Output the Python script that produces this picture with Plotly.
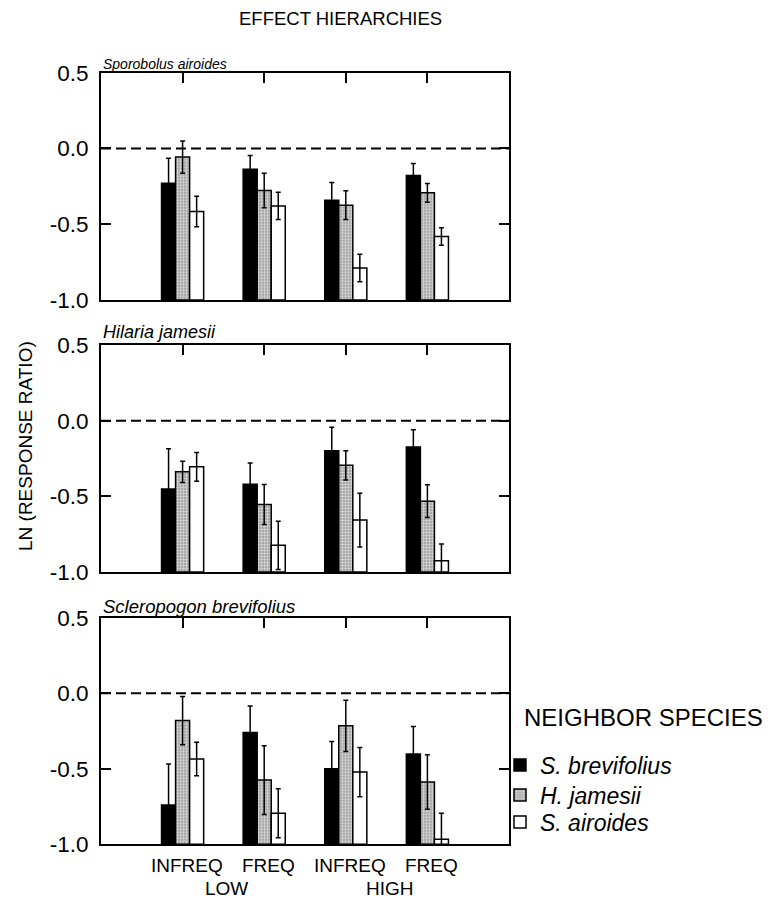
import plotly.graph_objects as go
from plotly.subplots import make_subplots

# ---------------- data ----------------
categories = ["INFREQ", "FREQ", "INFREQ", "FREQ"]
levels = ["LOW", "HIGH"]
panel_titles = ["Sporobolus airoides", "Hilaria jamesii", "Scleropogon brevifolius"]
series_names = ["S. brevifolius", "H. jamesii", "S. airoides"]

# Sporobolus airoides (target)
sp_black = [-0.229, -0.137, -0.341, -0.178]
sp_gray = [-0.057, -0.278, -0.374, -0.293]
sp_white = [-0.416, -0.379, -0.789, -0.581]
sp_black_err = [0.165, 0.090, 0.117, 0.079]
sp_gray_err = [0.107, 0.114, 0.095, 0.062]
sp_white_err = [0.100, 0.090, 0.091, 0.058]

# Hilaria jamesii (target)
hj_black = [-0.451, -0.420, -0.198, -0.174]
hj_gray = [-0.338, -0.554, -0.295, -0.532]
hj_white = [-0.305, -0.824, -0.657, -0.925]
hj_black_err = [0.266, 0.141, 0.154, 0.114]
hj_gray_err = [0.070, 0.132, 0.097, 0.108]
hj_white_err = [0.095, 0.160, 0.177, 0.110]

# Scleropogon brevifolius (target)
sb_black = [-0.740, -0.260, -0.500, -0.403]
sb_gray = [-0.181, -0.575, -0.216, -0.588]
sb_white = [-0.436, -0.795, -0.522, -0.967]
sb_black_err = [0.271, 0.176, 0.181, 0.183]
sb_gray_err = [0.160, 0.228, 0.170, 0.180]
sb_white_err = [0.111, 0.162, 0.163, 0.172]

y_ticks = [0.5, 0.0, -0.5, -1.0]
y_tick_labels = ["0.5", "0.0", "-0.5", "-1.0"]
BASE = -1.0

panels = [
    (sp_black, sp_gray, sp_white, sp_black_err, sp_gray_err, sp_white_err),
    (hj_black, hj_gray, hj_white, hj_black_err, hj_gray_err, hj_white_err),
    (sb_black, sb_gray, sb_white, sb_black_err, sb_gray_err, sb_white_err),
]

FONT = "Liberation Sans, Arial, sans-serif"
W, H = 771, 901

styles = [
    dict(color="black", line=dict(color="black", width=1.5)),
    dict(color="#b4b4b4", line=dict(color="black", width=1.5),
         pattern=dict(shape="+", fgcolor="#dedede", bgcolor="#a8a8a8", size=3, solidity=0.35)),
    dict(color="white", line=dict(color="black", width=1.5)),
]
legend_ids = ["legend", "legend2", "legend3"]
legend_y = [765, 795, 822]

fig = make_subplots(rows=3, cols=1)

xs = list(range(len(categories)))
for p, data in enumerate(panels):
    vals = data[:3]
    errs = data[3:]
    for s in range(3):
        fig.add_trace(
            go.Bar(
                x=xs,
                y=[v - BASE for v in vals[s]],
                base=BASE,
                name="<i>" + series_names[s] + "</i>",
                marker=styles[s],
                error_y=dict(type="data", array=errs[s], color="black", thickness=1.5, width=2.5),
                showlegend=(p == 0),
                legend=legend_ids[s],
            ),
            row=p + 1, col=1,
        )
    fig.add_hline(y=0, line=dict(color="black", width=2, dash="10px,5px"), row=p + 1, col=1)

# geometry (paper)
x_dom = [101 / W, 509 / W]
y_doms = [
    [1 - 300 / H, 1 - 72.7 / H],
    [1 - 572 / H, 1 - 345 / H],
    [1 - 844.3 / H, 1 - 617.7 / H],
]
for i in range(3):
    xa = "xaxis" if i == 0 else f"xaxis{i+1}"
    ya = "yaxis" if i == 0 else f"yaxis{i+1}"
    fig.layout[xa].update(
        domain=x_dom, range=[-1, 4], side="top", showline=True, linecolor="black",
        linewidth=2, mirror=True, ticks="inside", ticklen=10, tickwidth=1.5,
        tickcolor="black", tickvals=xs, showticklabels=False, showgrid=False, zeroline=False,
        automargin=False,
    )
    fig.layout[ya].update(
        domain=y_doms[i], range=[-1, 0.5], showline=True, linecolor="black",
        linewidth=2, mirror="ticks", ticks="inside", ticklen=10, tickwidth=1.5,
        tickcolor="black", tickvals=y_ticks, ticktext=y_tick_labels,
        tickfont=dict(family=FONT, size=22.5, color="black"), ticklabelstandoff=6,
        showgrid=False, zeroline=False, automargin=False,
    )

annotations = []
annotations.append(dict(text="EFFECT HIERARCHIES", x=340 / W, y=1 - 18 / H, xref="paper", yref="paper",
                        showarrow=False, font=dict(family=FONT, size=18.5, color="black"),
                        xanchor="center", yanchor="middle"))
annotations.append(dict(text="LN (RESPONSE RATIO)", x=26 / W, y=1 - 446 / H, xref="paper", yref="paper",
                        showarrow=False, textangle=-90, font=dict(family=FONT, size=19, color="black"),
                        xanchor="center", yanchor="middle"))
title_specs = [(14, 63.5), (18, 332), (18.5, 606.5)]
for t, (sz, yc) in zip(panel_titles, title_specs):
    annotations.append(dict(text="<i>" + t + "</i>", x=101 / W, y=1 - yc / H, xref="paper", yref="paper",
                            showarrow=False, font=dict(family=FONT, size=sz, color="black"),
                            xanchor="left", yanchor="middle"))
for i, c in enumerate(categories):
    annotations.append(dict(text=c, x=i + 0.05, y=1 - 865.5 / H, xref="x3", yref="paper",
                            showarrow=False, font=dict(family=FONT, size=19, color="black"),
                            xanchor="center", yanchor="middle"))
for j, lv in enumerate(levels):
    annotations.append(dict(text=lv, x=2 * j + 0.54, y=1 - 888 / H, xref="x3", yref="paper",
                            showarrow=False, font=dict(family=FONT, size=19, color="black"),
                            xanchor="center", yanchor="middle"))
annotations.append(dict(text="NEIGHBOR SPECIES", x=522 / W, y=1 - 717 / H, xref="paper", yref="paper",
                        showarrow=False, font=dict(family=FONT, size=24, color="black"),
                        xanchor="left", yanchor="middle"))

legend_layout = {}
for lid, ly in zip(legend_ids, legend_y):
    legend_layout[lid] = dict(x=500 / W, y=1 - ly / H, xanchor="left", yanchor="middle",
                              font=dict(family=FONT, size=23, color="black"),
                              bgcolor="rgba(0,0,0,0)", borderwidth=0, itemwidth=30)

fig.update_layout(
    template="none",
    width=W, height=H,
    margin=dict(l=0, r=0, t=0, b=0, pad=0, autoexpand=False),
    paper_bgcolor="white", plot_bgcolor="white",
    barmode="group", bargap=0.484, bargroupgap=0,
    font=dict(family=FONT, color="black"),
    annotations=annotations,
    **legend_layout,
)

fig.write_html("out.html", config={"displayModeBar": False},
               post_script="document.body.style.margin='0';")
